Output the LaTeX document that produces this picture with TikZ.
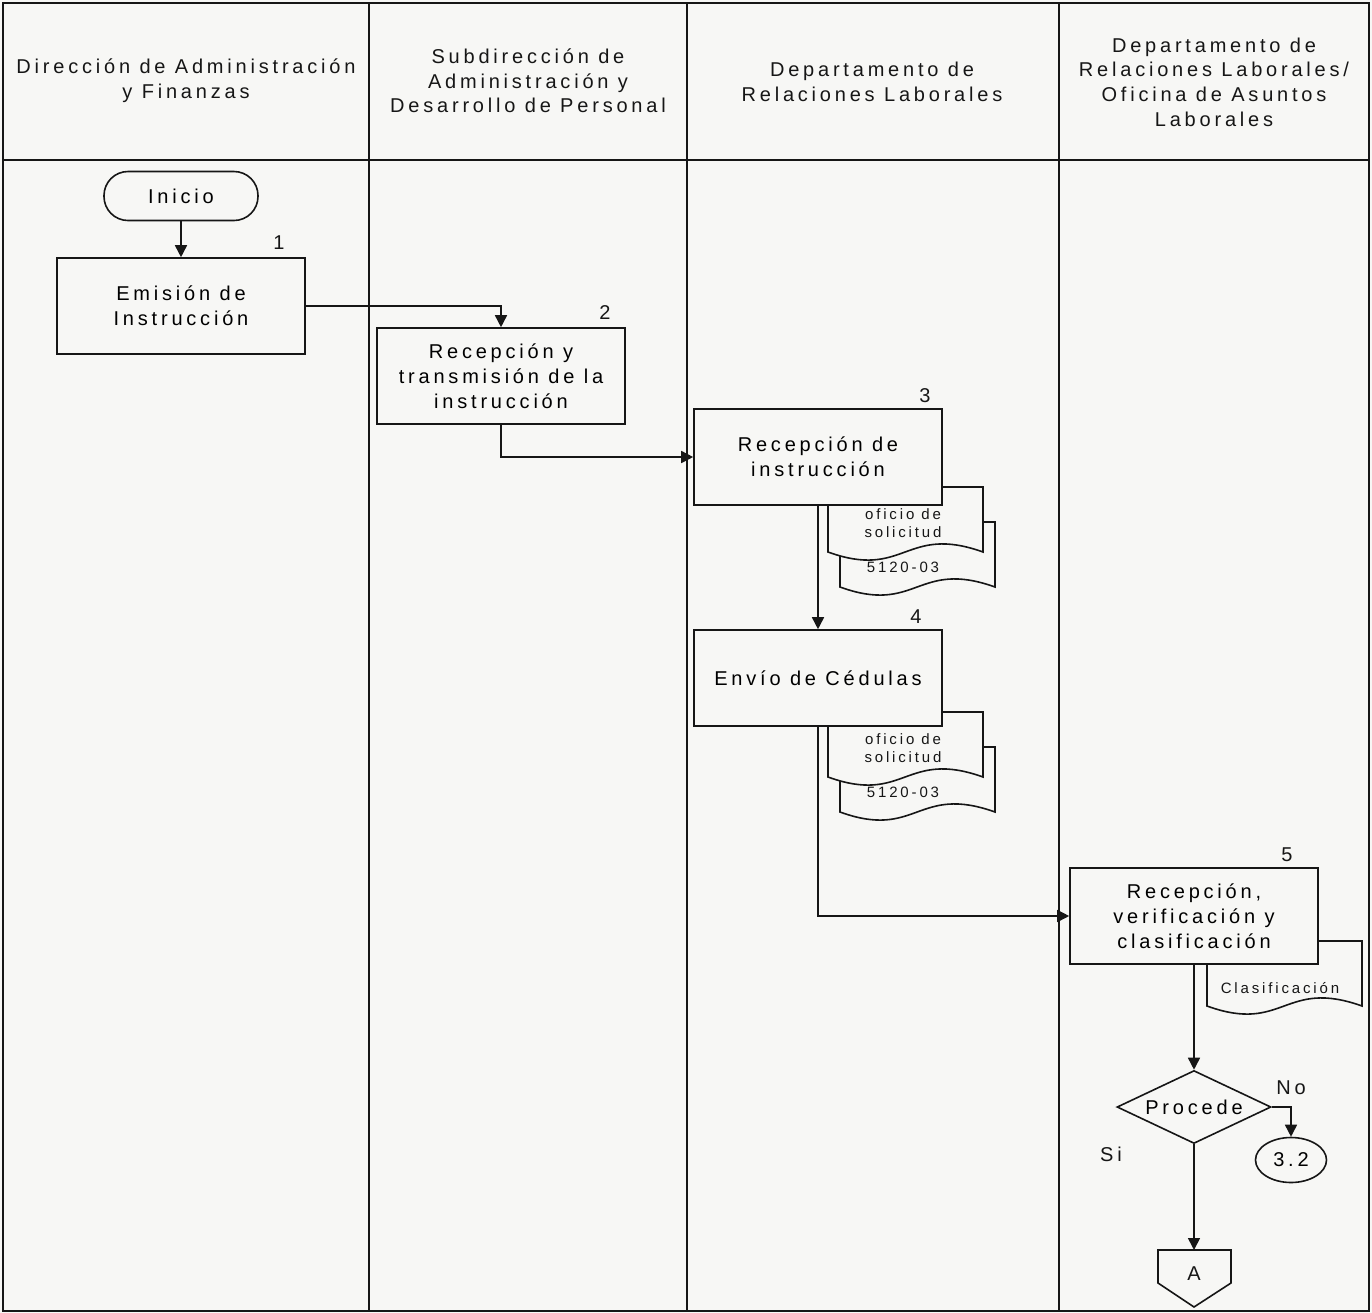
\documentclass[tikz,border=0pt]{standalone}
\usepackage{fontspec}
\setmainfont{Liberation Sans}[LetterSpace=19]
\usetikzlibrary{arrows.meta,shapes.geometric}
\definecolor{ink}{HTML}{161616}
\definecolor{paper}{HTML}{F7F7F5}
\tikzset{
  lane/.style={draw=ink,line width=.8pt},
  txt/.style={align=center,text=ink,font=\fontsize{10}{12.3}\selectfont,inner sep=0pt},
  small/.style={align=center,text=ink,font=\fontsize{7.5}{9}\selectfont,inner sep=0pt},
  box/.style={draw=ink,line width=.8pt,fill=paper,minimum width=124pt,minimum height=48pt,align=center,font=\fontsize{10}{12.5}\selectfont,inner sep=2pt},
  term/.style={box,minimum width=77pt,minimum height=24.5pt,rounded corners=12pt},
  dec/.style={draw=ink,line width=.8pt,fill=paper,diamond,aspect=2,minimum width=77pt,minimum height=36.5pt,inner sep=0pt,font=\fontsize{10}{12.5}\selectfont},
  conn/.style={draw=ink,line width=.8pt,fill=paper,ellipse,minimum width=35.5pt,minimum height=22.5pt,inner sep=0pt,font=\fontsize{10}{12.5}\selectfont},
  ar/.style={-{Triangle[length=6pt,width=6pt]},draw=ink,line width=.8pt},
  ln/.style={draw=ink,line width=.8pt},
  doc/.pic={\draw[ln,fill=paper] (0,0) -- (155,0) -- (155,65) .. controls (77,37) and (77,93) .. (0,65) -- cycle;},
}
\begin{document}
\begin{tikzpicture}[x=0.5pt,y=-0.5pt]
  \useasboundingbox[fill=paper] (0,0) rectangle (1372,1313);
  \draw[lane] (3,3) rectangle (1369,1311);
  \draw[lane] (3,160) -- (1369,160);
  \foreach \x in {369,687,1059} \draw[lane] (\x,3) -- (\x,1311);
  \node[txt] (h1) at (186,81) {Dirección de Administración\\y Finanzas};
  \node[txt] (h2) at (528,81) {Subdirección de\\Administración y\\Desarrollo de Personal};
  \node[txt] (h3) at (872,82) {Departamento de\\Relaciones Laborales};
  \node[txt] (h4) at (1214,82) {Departamento de\\Relaciones Laborales/\\Oficina de Asuntos\\Laborales};
  \node[term] (ini) at (181,196) {Inicio};
  \node[box] (b1) at (181,306) {Emisión de\\Instrucción};
  \node[txt] (k1) at (279,243) {1};
  \node[box] (b2) at (501,376) {Recepción y\\transmisión de la\\instrucción};
  \node[txt] (k2) at (605,313) {2};
  \pic at (840,522) {doc};
  \pic at (828,487) {doc};
  \node[small] (d1) at (903,523) {oficio de\\solicitud};
  \node[small] (d2) at (903,567) {5120-03};
  \node[box] (b3) at (818,457) {Recepción de\\instrucción};
  \node[txt] (k3) at (925,396) {3};
  \pic at (840,747) {doc};
  \pic at (828,712) {doc};
  \node[small] (d3) at (903,748) {oficio de\\solicitud};
  \node[small] (d4) at (903,792) {5120-03};
  \node[box] (b4) at (818,678) {Envío de Cédulas};
  \node[txt] (k4) at (916,617) {4};
  \pic at (1207,941) {doc};
  \node[small] (d5) at (1280,988) {Clasificación};
  \node[box] (b5) at (1194,916) {Recepción,\\verificación y\\clasificación};
  \node[txt] (k5) at (1287,855) {5};
  \node[dec] (proc) at (1194,1107) {\makebox[0pt]{Procede}};
  \node[txt] (no) at (1291,1088) {No};
  \node[txt] (si) at (1111,1154) {Si};
  \node[conn] (c32) at (1291,1160) {3.2};
  \draw[ln,fill=paper] (1158,1250) -- (1231,1250) -- (1231,1283) -- (1194,1307) -- (1158,1283) -- cycle;
  \coordinate (atop) at (1194,1250);
  \node[txt] (conA) at (1194,1274) {A};
  \draw[ar] (ini) -- (b1);
  \draw[ar] (b1.east) -| (b2.north);
  \draw[ar] (b2.south) |- (b3.west);
  \draw[ar] (b3) -- (b4);
  \draw[ar] (b4.south) |- (b5.west);
  \draw[ar] (b5.south) -- (proc.north);
  \draw[ar] (proc.east) -| (c32.north);
  \draw[ar] (proc.south) -- (atop);
\end{tikzpicture}
\end{document}
